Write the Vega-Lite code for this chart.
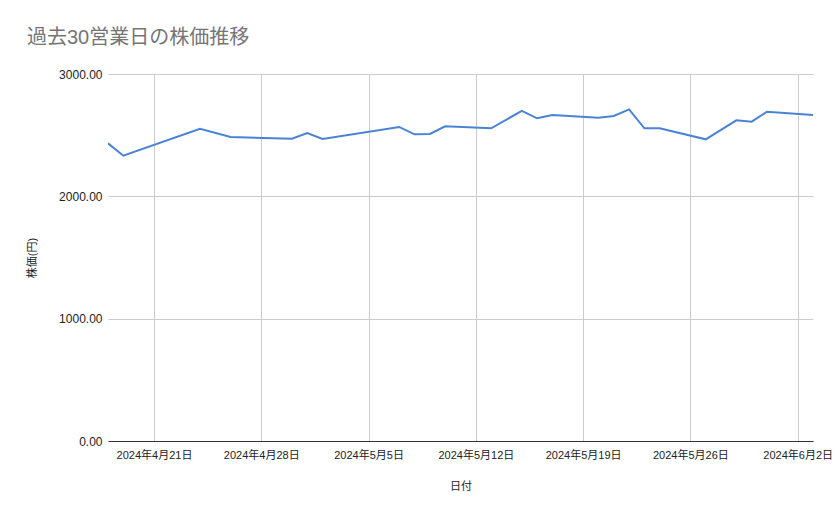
{
  "$schema": "https://vega.github.io/schema/vega-lite/v6.json",
  "autosize": {"type": "none"},
  "padding": {"left": 108, "top": 74, "right": 26, "bottom": 78},
  "width": 705,
  "height": 367,
  "background": "white",
  "title": {
    "text": "過去30営業日の株価推移",
    "anchor": "start",
    "frame": "group",
    "dx": -81,
    "offset": 4,
    "baseline": "alphabetic",
    "font": "Liberation Sans, 'Noto Sans CJK JP'",
    "fontSize": 20,
    "fontWeight": "normal",
    "color": "#757575"
  },
  "data": {
    "values": [
      {"date": "2024-04-18", "price": 2433},
      {"date": "2024-04-19", "price": 2332},
      {"date": "2024-04-24", "price": 2553},
      {"date": "2024-04-26", "price": 2485},
      {"date": "2024-04-30", "price": 2471},
      {"date": "2024-05-01", "price": 2518},
      {"date": "2024-05-02", "price": 2469},
      {"date": "2024-05-07", "price": 2567},
      {"date": "2024-05-08", "price": 2507},
      {"date": "2024-05-09", "price": 2510},
      {"date": "2024-05-10", "price": 2572},
      {"date": "2024-05-13", "price": 2556},
      {"date": "2024-05-15", "price": 2698},
      {"date": "2024-05-16", "price": 2638},
      {"date": "2024-05-17", "price": 2665},
      {"date": "2024-05-20", "price": 2643},
      {"date": "2024-05-21", "price": 2657},
      {"date": "2024-05-22", "price": 2711},
      {"date": "2024-05-23", "price": 2556},
      {"date": "2024-05-24", "price": 2556},
      {"date": "2024-05-27", "price": 2466},
      {"date": "2024-05-29", "price": 2621},
      {"date": "2024-05-30", "price": 2610},
      {"date": "2024-05-31", "price": 2692},
      {"date": "2024-06-03", "price": 2665}
    ],
    "format": {"parse": {"date": "date:'%Y-%m-%d'"}}
  },
  "mark": {"type": "line", "color": "#4a83d6", "strokeWidth": 2, "clip": true},
  "encoding": {
    "x": {
      "field": "date",
      "type": "temporal",
      "title": "日付",
      "scale": {
        "domain": [
          {"year": 2024, "month": 4, "date": 18},
          {"year": 2024, "month": 6, "date": 3}
        ],
        "nice": false
      },
      "axis": {
        "values": [
          {"year": 2024, "month": 4, "date": 21},
          {"year": 2024, "month": 4, "date": 28},
          {"year": 2024, "month": 5, "date": 5},
          {"year": 2024, "month": 5, "date": 12},
          {"year": 2024, "month": 5, "date": 19},
          {"year": 2024, "month": 5, "date": 26},
          {"year": 2024, "month": 6, "date": 2}
        ],
        "format": "%Y年%-m月%-d日",
        "labelOverlap": false,
        "labelBound": false,
        "labelFlush": false,
        "ticks": false,
        "labelPadding": 8,
        "labelFont": "Liberation Sans, 'Noto Sans CJK JP'",
        "labelFontSize": 11,
        "labelColor": "#222222",
        "grid": true,
        "gridColor": "#cccccc",
        "gridWidth": 1,
        "domain": true,
        "domainColor": "#333333",
        "domainWidth": 1,
        "titleFont": "Liberation Sans, 'Noto Sans CJK JP'",
        "titleFontSize": 11,
        "titleFontWeight": "normal",
        "titleColor": "#222222",
        "titlePadding": 20
      }
    },
    "y": {
      "field": "price",
      "type": "quantitative",
      "title": "株価(円)",
      "scale": {"domain": [0, 3000], "nice": false, "zero": true},
      "axis": {
        "values": [0, 1000, 2000, 3000],
        "format": ".2f",
        "ticks": false,
        "labelPadding": 6,
        "labelFont": "Liberation Sans, 'Noto Sans CJK JP'",
        "labelFontSize": 12,
        "labelColor": "#222222",
        "grid": true,
        "gridColor": "#cccccc",
        "gridWidth": 1,
        "domain": false,
        "titleFont": "Liberation Sans, 'Noto Sans CJK JP'",
        "titleFontSize": 11,
        "titleFontWeight": "normal",
        "titleColor": "#222222",
        "titlePadding": 21
      }
    }
  },
  "config": {"view": {"stroke": null}}
}
